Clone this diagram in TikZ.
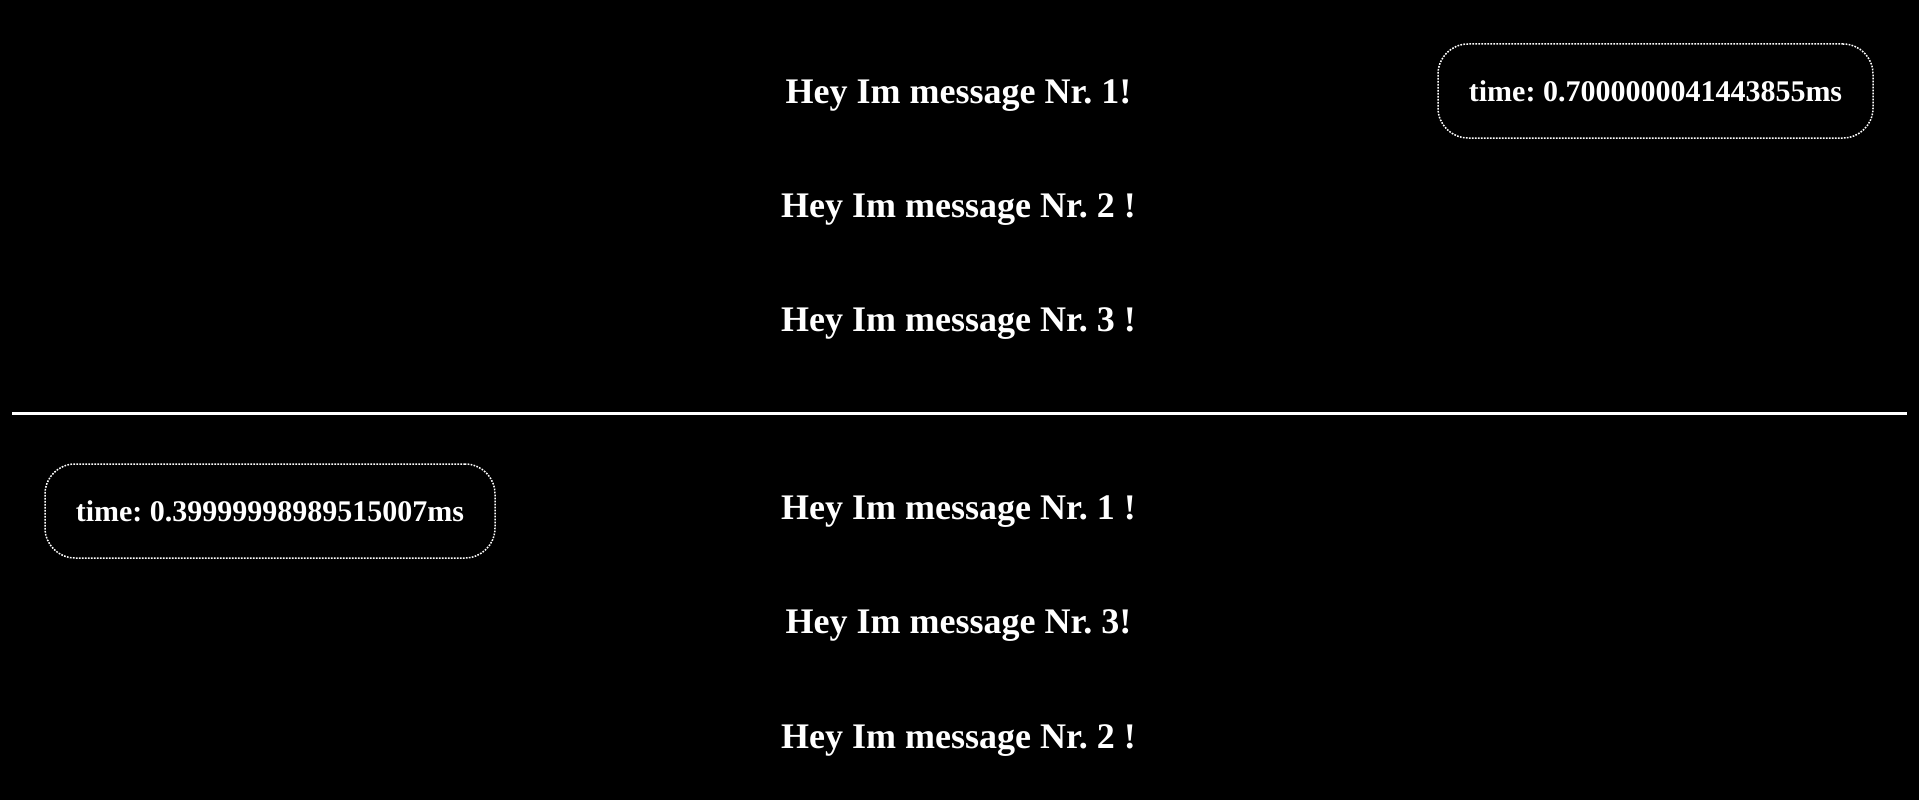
\documentclass[tikz,border=0pt]{standalone}
\usepackage{fontspec}
\setmainfont{Liberation Serif}
\usepackage{tikz}
\frenchspacing

\tikzset{
  msg/.style={text=white, anchor=base, font=\bfseries\fontsize{36}{40}\selectfont},
  timebox/.style={draw=white!85, line width=1.5pt, dash pattern=on 1.7pt off 1.3pt,
    rounded corners=30pt, text=white, font=\bfseries\fontsize{30}{34}\selectfont,
    minimum height=94pt, text height=28pt, text depth=6.6pt, inner sep=0pt}
}

\begin{document}
\begin{tikzpicture}[x=1pt,y=-1pt]
          \fill[black] (0,0) rectangle (1919,800);
          
          % First run
          \node[msg] (topone) at (958.5,103) {Hey Im message Nr. 1!};
          \node[msg] (toptwo) at (958.5,217) {Hey Im message Nr. 2 !};
          \node[msg] (topthree) at (958.5,331) {Hey Im message Nr. 3 !};
          \node[timebox, minimum width=435pt] (toptime) at (1655.5,91) {time: 0.7000000041443855ms};
          
          % Separator
          \coordinate (sepleft) at (12,413.5);
          \coordinate (sepright) at (1907,413.5);
          \draw[white!92, line width=2.5pt] (sepleft) -- (sepright);
          
          % Second run
          \node[msg] (botone) at (958.5,519) {Hey Im message Nr. 1 !};
          \node[msg] (botthree) at (958.5,633) {Hey Im message Nr. 3!};
          \node[msg] (bottwo) at (958.5,748) {Hey Im message Nr. 2 !};
          \node[timebox, minimum width=450pt] (bottime) at (270,511) {time: 0.39999998989515007ms};
        \end{tikzpicture}
\end{document}
